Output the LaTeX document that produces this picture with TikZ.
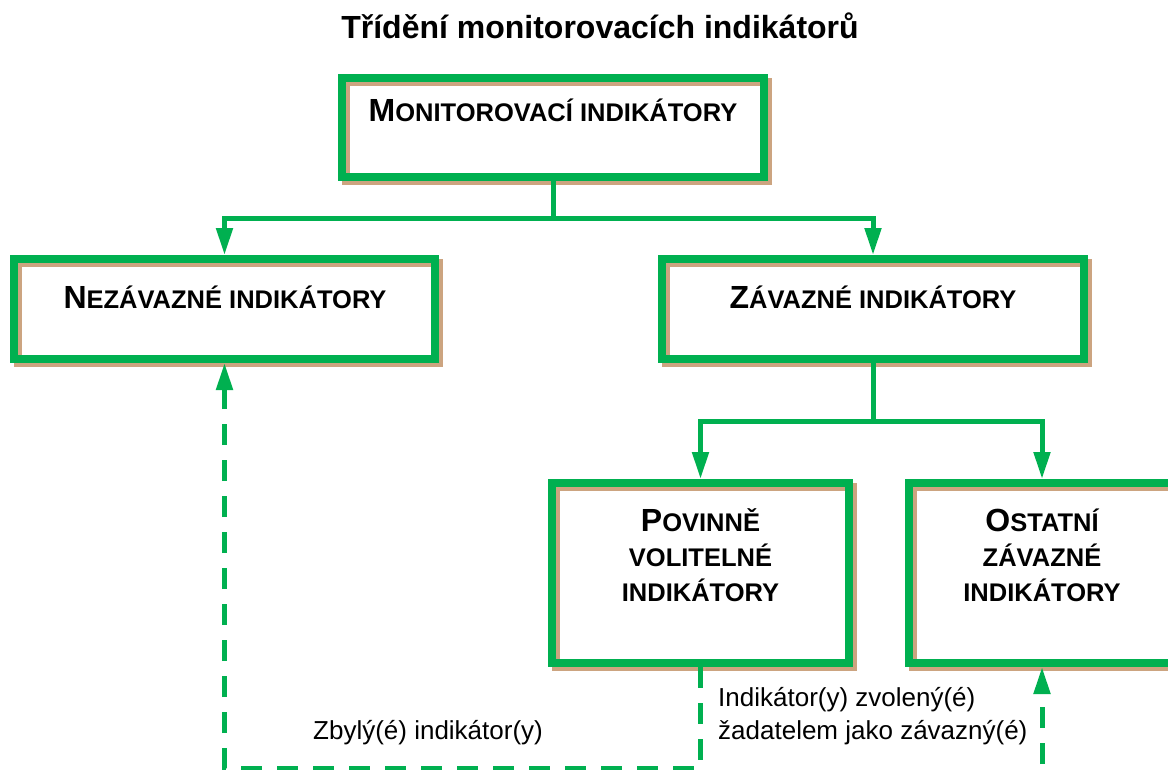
\documentclass[tikz,border=0pt]{standalone}
\usepackage{fontspec}
\setmainfont{Liberation Sans}
\usetikzlibrary{arrows.meta}
\definecolor{gr}{RGB}{0,176,80}
\definecolor{shd}{RGB}{204,164,128}
\newcommand\Lc[1]{{\fontsize{32}{32}\selectfont #1}}
\tikzset{
  box/.style={rectangle, draw=gr, line width=8pt, inner sep=0pt,
    preaction={draw=shd, line width=8pt, transform canvas={shift={(4pt,-4pt)}}}},
  btxt/.style={font=\bfseries\fontsize{25.5}{35}\selectfont, inner sep=0pt, align=center},
  conn/.style={draw=gr, line width=5pt, -{Triangle[length=27pt,width=16pt]}},
  link/.style={draw=gr, line width=5pt},
  dconn/.style={conn, dash pattern=on 21pt off 15pt},
  lbl/.style={font=\fontsize{26}{33}\selectfont, inner sep=0pt, anchor=base west, align=left}
}
\begin{document}
\begin{tikzpicture}[x=1pt,y=-1pt]
\useasboundingbox (0,0) rectangle (1168,769);
\clip (0,0) rectangle (1168,769);
\node[font=\bfseries\fontsize{32}{32}\selectfont, inner sep=0pt, anchor=base] (title) at (600,38) {Třídění monitorovacích indikátorů};

\node[box, minimum width=422pt, minimum height=99pt] (b1) at (553,127.5) {};
\node[box, minimum width=421pt, minimum height=100pt] (b2) at (224.5,309) {};
\node[box, minimum width=422pt, minimum height=100pt] (b3) at (873,309) {};
\node[box, minimum width=297pt, minimum height=180pt] (b4) at (700.5,573) {};
\node[box, minimum width=266pt, minimum height=180pt] (b5) at (1042,573) {};

\node[btxt, anchor=base] (t1) at (553,121) {\Lc{M}ONITOROVACÍ INDIKÁTORY};
\node[btxt, anchor=base] (t2) at (225,308) {\Lc{N}EZÁVAZNÉ INDIKÁTORY};
\node[btxt, anchor=base] (t3) at (873,308) {\Lc{Z}ÁVAZNÉ INDIKÁTORY};
\node[btxt, anchor=base] (t4) at (700.5,601) {\Lc{P}OVINNĚ\\VOLITELNÉ\\INDIKÁTORY};
\node[btxt, anchor=base] (t5) at (1042,601) {\Lc{O}STATNÍ\\ZÁVAZNÉ\\INDIKÁTORY};

\coordinate (j1) at (553,218);
\coordinate (j2) at (873,421);
\draw[link] (b1.south) -- (j1);
\draw[conn] (j1) -| (b2.north);
\draw[conn] (j1) -| (b3.north);
\draw[link] (b3.south) -- (j2);
\draw[conn] (j2) -| (b4.north);
\draw[conn] (j2) -| (b5.north);

\coordinate (d1) at (700.5,768);
\coordinate (d2) at (1042,800);
\draw[dconn] (b4.south) -- (d1) -| (b2.south);
\draw[dconn] (d2) -- (b5.south);

\node[lbl] (l1) at (313,739) {Zbylý(é) indikátor(y)};
\node[lbl] (l2) at (718,739) {Indikátor(y) zvolený(é)\\žadatelem jako závazný(é)};
\end{tikzpicture}
\end{document}
